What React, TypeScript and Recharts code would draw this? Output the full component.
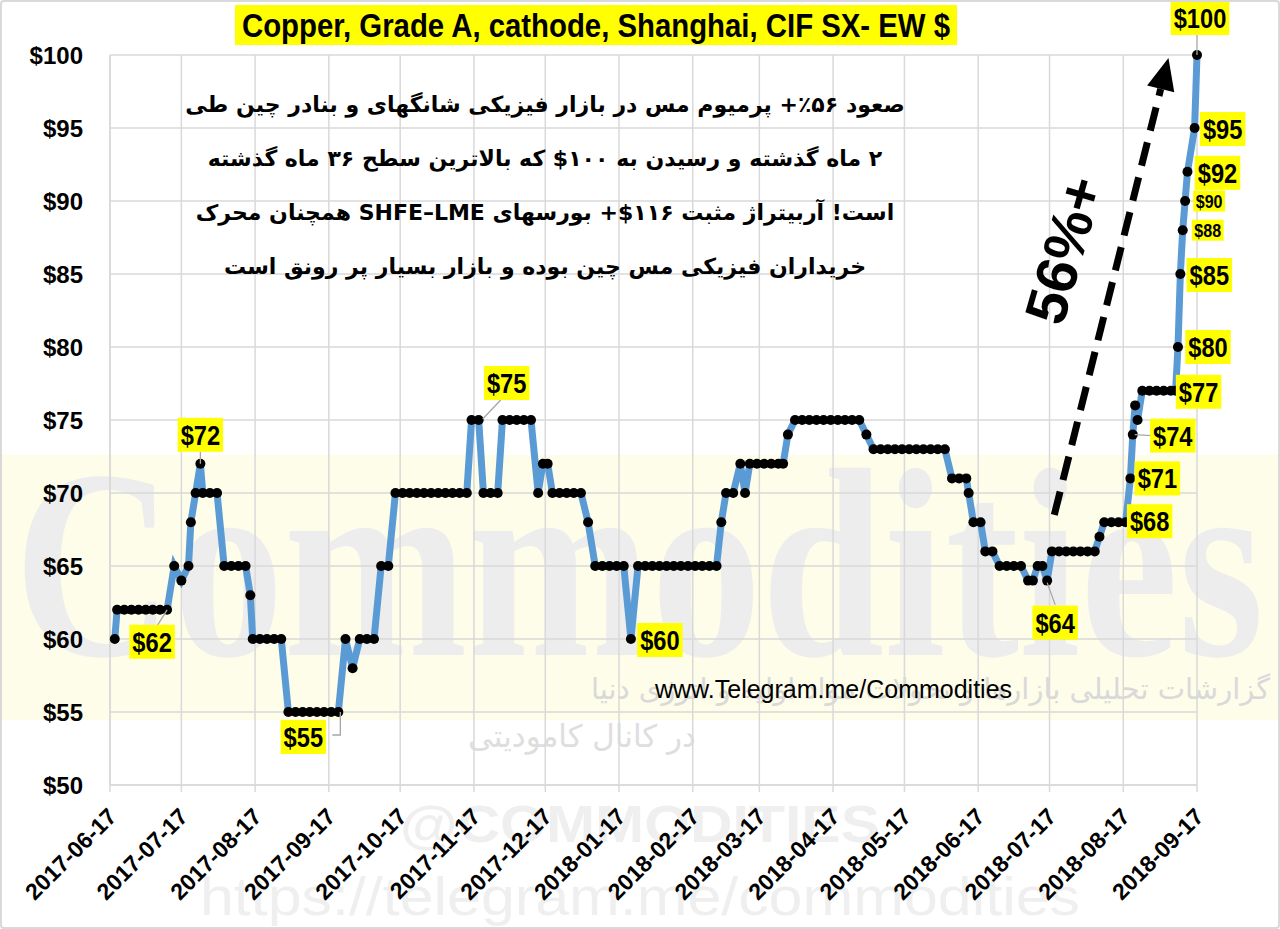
import React from 'react'
import { LineChart, Line, XAxis, YAxis, CartesianGrid, ReferenceLine, LabelList } from 'recharts'

const dates = [
  '2017-06-19', '2017-06-20', '2017-06-23', '2017-06-26', '2017-06-29',
  '2017-07-02', '2017-07-05', '2017-07-08', '2017-07-11', '2017-07-14', '2017-07-17', '2017-07-20', '2017-07-21', '2017-07-23', '2017-07-25', '2017-07-26', '2017-07-29',
  '2017-08-01', '2017-08-04', '2017-08-07', '2017-08-10', '2017-08-13', '2017-08-15', '2017-08-16', '2017-08-19', '2017-08-22', '2017-08-25', '2017-08-28', '2017-08-31',
  '2017-09-03', '2017-09-06', '2017-09-09', '2017-09-12', '2017-09-15', '2017-09-18', '2017-09-21', '2017-09-24', '2017-09-27', '2017-09-30',
  '2017-10-03', '2017-10-06', '2017-10-09', '2017-10-12', '2017-10-15', '2017-10-18', '2017-10-21', '2017-10-24', '2017-10-27', '2017-10-30',
  '2017-11-02', '2017-11-05', '2017-11-08', '2017-11-11', '2017-11-14', '2017-11-16', '2017-11-19', '2017-11-21', '2017-11-24', '2017-11-27', '2017-11-29',
  '2017-12-02', '2017-12-05', '2017-12-08', '2017-12-11', '2017-12-14', '2017-12-16', '2017-12-18', '2017-12-20', '2017-12-23', '2017-12-26', '2017-12-29',
  '2018-01-01', '2018-01-04', '2018-01-07', '2018-01-10', '2018-01-13', '2018-01-16', '2018-01-19', '2018-01-22', '2018-01-25', '2018-01-28', '2018-01-31',
  '2018-02-03', '2018-02-06', '2018-02-09', '2018-02-12', '2018-02-15', '2018-02-18', '2018-02-21', '2018-02-24', '2018-02-27',
  '2018-03-01', '2018-03-03', '2018-03-06', '2018-03-09', '2018-03-11', '2018-03-13', '2018-03-16', '2018-03-19', '2018-03-22', '2018-03-25', '2018-03-27', '2018-03-29',
  '2018-04-01', '2018-04-04', '2018-04-07', '2018-04-10', '2018-04-13', '2018-04-16', '2018-04-19', '2018-04-22', '2018-04-25', '2018-04-28',
  '2018-05-01', '2018-05-04', '2018-05-07', '2018-05-10', '2018-05-13', '2018-05-16', '2018-05-19', '2018-05-22', '2018-05-25', '2018-05-28', '2018-05-31',
  '2018-06-03', '2018-06-06', '2018-06-09', '2018-06-12', '2018-06-13', '2018-06-15', '2018-06-18', '2018-06-20', '2018-06-23', '2018-06-26', '2018-06-29',
  '2018-07-02', '2018-07-05', '2018-07-08', '2018-07-10', '2018-07-12', '2018-07-14', '2018-07-16', '2018-07-18', '2018-07-21', '2018-07-24', '2018-07-27', '2018-07-30',
  '2018-08-02', '2018-08-05', '2018-08-07', '2018-08-09', '2018-08-12', '2018-08-15', '2018-08-18', '2018-08-20', '2018-08-21', '2018-08-22', '2018-08-23', '2018-08-25', '2018-08-28', '2018-08-31',
  '2018-09-03', '2018-09-06', '2018-09-08', '2018-09-09', '2018-09-10', '2018-09-11', '2018-09-12', '2018-09-13', '2018-09-16', '2018-09-17',
]

const prices = [
  60, 62, 62, 62, 62,
  62, 62, 62, 62, 65, 64, 65, 68, 70, 72, 70, 70,
  70, 65, 65, 65, 65, 63, 60, 60, 60, 60, 60, 55,
  55, 55, 55, 55, 55, 55, 55, 60, 58, 60,
  60, 60, 65, 65, 70, 70, 70, 70, 70, 70,
  70, 70, 70, 70, 70, 75, 75, 70, 70, 70, 75,
  75, 75, 75, 75, 70, 72, 72, 70, 70, 70, 70,
  70, 68, 65, 65, 65, 65, 65, 60, 65, 65, 65,
  65, 65, 65, 65, 65, 65, 65, 65, 65,
  68, 70, 70, 72, 70, 72, 72, 72, 72, 72, 72, 74,
  75, 75, 75, 75, 75, 75, 75, 75, 75, 75,
  74, 73, 73, 73, 73, 73, 73, 73, 73, 73, 73,
  73, 71, 71, 71, 70, 68, 68, 66, 66, 65, 65,
  65, 65, 64, 64, 65, 65, 64, 66, 66, 66, 66, 66,
  66, 66, 67, 68, 68, 68, 68, 71, 74, 76, 75, 77, 77, 77,
  77, 77, 77, 80, 85, 88, 90, 92, 95, 100,
]

const monthTicks = [
  '2017-06-17', '2017-07-17', '2017-08-17', '2017-09-17', '2017-10-17', '2017-11-17', '2017-12-17', '2018-01-17',
  '2018-02-17', '2018-03-17', '2018-04-17', '2018-05-17', '2018-06-17', '2018-07-17', '2018-08-17', '2018-09-17',
]
const priceTicks = [50, 55, 60, 65, 70, 75, 80, 85, 90, 95, 100]

const title = 'Copper, Grade A, cathode, Shanghai, CIF SX- EW $'

const noteLines = [
  'صعود ۵۶٪+ پرمیوم مس در بازار فیزیکی شانگهای و بنادر چین طی',
  '۲ ماه گذشته و رسیدن به ۱۰۰$ که بالاترین سطح ۳۶ ماه گذشته',
  'است! آربیتراژ مثبت ۱۱۶$+ بورسهای SHFE–LME همچنان محرک',
  'خریداران فیزیکی مس چین بوده و بازار بسیار پر رونق است',
]

// which points get a yellow price tag, and where the tag sits relative to the dot
type Callout = { dx: number; dy: number; small?: boolean; leader?: number[][] }
const callouts: Record<string, Callout> = {
  '2017-07-11': { dx: -15, dy: 32, leader: [[0, 0], [-10, 16]] },
  '2017-07-25': { dx: 0, dy: -29, leader: [[0, 0], [0, -12]] },
  '2017-09-21': { dx: -35, dy: 25, leader: [[2, 0], [2, 23], [-6, 23]] },
  '2017-11-19': { dx: 28, dy: -37, leader: [[4, -1], [22, -20]] },
  '2018-01-22': { dx: 29, dy: 1 },
  '2018-07-16': { dx: 8, dy: 42, leader: [[0, 2], [8, 24]] },
  '2018-08-18': { dx: 24, dy: -1 },
  '2018-08-20': { dx: 27, dy: 0 },
  '2018-08-21': { dx: 40, dy: 1, leader: [[2, 0], [19, 1]] },
  '2018-09-08': { dx: 23, dy: 1 },
  '2018-09-09': { dx: 30, dy: 0 },
  '2018-09-10': { dx: 29, dy: 1 },
  '2018-09-11': { dx: 25, dy: 0, small: true },
  '2018-09-12': { dx: 24, dy: 0, small: true },
  '2018-09-13': { dx: 30, dy: 1 },
  '2018-09-16': { dx: 28, dy: 1 },
  '2018-09-17': { dx: 3, dy: -37, leader: [[0, 0], [0, -20]] },
}

const arrowFrom = { date: '2018-07-19', price: 68.5 }
const arrowTo = { date: '2018-09-05', price: 99.8 }

const SANS = "'Liberation Sans', Arial, sans-serif"
const PERSIAN = "'DejaVu Sans', sans-serif"
const GRID = '#d9d9d9'

const toTime = (d: string) => Date.parse(d + 'T00:00:00Z')

const chartData = dates.map((d, i) => ({ date: d, t: toTime(d), price: prices[i] }))

function PriceTag(props: any) {
  const { x, y, value } = props
  const c = callouts[value]
  if (!c || x == null || y == null) return null
  const text = `$${prices[dates.indexOf(value)]}`
  const fs = c.small ? 19 : 28
  const tw = text.length * fs * 0.47
  const w = tw + (c.small ? 5 : 6)
  const h = c.small ? 21 : 34
  const cx = x + c.dx
  const cy = y + c.dy
  return (
    <g>
      {c.leader && (
        <polyline
          points={c.leader.map(([px, py]) => `${x + px},${y + py}`).join(' ')}
          fill="none"
          stroke="#a6a6a6"
          strokeWidth={1.3}
        />
      )}
      <rect x={cx - w / 2} y={cy - h / 2} width={w} height={h} fill="#ffff00" />
      <text
        x={cx}
        y={cy}
        dy="0.36em"
        textAnchor="middle"
        fontSize={fs}
        fontWeight={700}
        fontFamily={SANS}
        fill="#000"
        textLength={tw}
        lengthAdjust="spacingAndGlyphs"
      >
        {text}
      </text>
    </g>
  )
}

function DateTick({ x, y, payload }: any) {
  const label = new Date(payload.value).toISOString().slice(0, 10)
  return (
    <g transform={`translate(${x},${y})`}>
      <text
        transform="translate(8, 24) rotate(-45)"
        textAnchor="end"
        fontSize={23}
        fontWeight={700}
        fontFamily={SANS}
        fill="#000"
      >
        {label}
      </text>
    </g>
  )
}

function DashedArrow(p: any) {
  const { x1, y1, x2, y2 } = p
  const ang = Math.atan2(y2 - y1, x2 - x1)
  const headLen = 32
  const headW = 14
  const bx = x2 - headLen * Math.cos(ang)
  const by = y2 - headLen * Math.sin(ang)
  const nx = -Math.sin(ang)
  const ny = Math.cos(ang)
  return (
    <g>
      <line x1={x1} y1={y1} x2={bx} y2={by} stroke="#000" strokeWidth={7} strokeDasharray="24 12" />
      <polygon
        points={`${x2},${y2} ${bx + nx * headW},${by + ny * headW} ${bx - nx * headW},${by - ny * headW}`}
        fill="#000"
      />
    </g>
  )
}

function Watermark() {
  return (
    <svg width={1280} height={929} style={{ position: 'absolute', left: 0, top: 0 }}>
      <rect x={0} y={455} width={1280} height={265} fill="#fdfdea" />
      <text
        x={14}
        y={655}
        fontSize={270}
        fontWeight={700}
        fontFamily="'Liberation Serif', serif"
        fill="#ededed"
        textLength={1250}
        lengthAdjust="spacingAndGlyphs"
      >
        Commodities
      </text>
      <text x={400} y={842} fontSize={52} fontWeight={700} fontFamily={SANS} fill="#efefef" textLength={480} lengthAdjust="spacingAndGlyphs">
        @COMMODITIES
      </text>
      <text x={200} y={915} fontSize={54} fontFamily={SANS} fill="#efefef" textLength={880} lengthAdjust="spacingAndGlyphs">
        https://telegram.me/commodities
      </text>
    </svg>
  )
}

export default function App() {
  return (
    <div style={{ position: 'absolute', left: 0, top: 0, width: 1280, height: 929, background: '#fff', overflow: 'hidden' }}>
      <Watermark />
      <div
        dir="rtl"
        style={{ position: 'absolute', right: 10, top: 672, fontFamily: PERSIAN, fontSize: 29, color: '#d9d9d9', whiteSpace: 'nowrap' }}
      >
        گزارشات تحلیلی بازارها و تحولات مواد اولیه و انرژی دنیا
      </div>
      <div
        dir="rtl"
        style={{ position: 'absolute', left: 468, top: 718, fontFamily: PERSIAN, fontSize: 31, color: '#dedede', whiteSpace: 'nowrap' }}
      >
        در کانال کامودیتی
      </div>

      <div style={{ position: 'absolute', left: 0, top: 0 }}>
        <LineChart width={1280} height={929} data={chartData} margin={{ top: 55, right: 83, bottom: 0, left: 0 }}>
          <CartesianGrid stroke={GRID} strokeWidth={1.5} />
          <XAxis
            dataKey="t"
            type="number"
            domain={[toTime(monthTicks[0]), toTime(monthTicks[monthTicks.length - 1])]}
            ticks={monthTicks.map(toTime)}
            tick={DateTick}
            tickLine={{ stroke: GRID, strokeWidth: 1.5 }}
            tickSize={7}
            axisLine={{ stroke: GRID, strokeWidth: 1.5 }}
            height={144}
            interval={0}
          />
          <YAxis
            domain={[50, 100]}
            ticks={priceTicks}
            tickFormatter={(v: number) => `$${v}`}
            tick={{ fontSize: 24, fontWeight: 700, fill: '#000', fontFamily: SANS }}
            tickLine={false}
            tickMargin={21}
            axisLine={{ stroke: GRID, strokeWidth: 1.5 }}
            width={110}
            interval={0}
          />
          <ReferenceLine
            segment={[
              { x: toTime(arrowFrom.date), y: arrowFrom.price },
              { x: toTime(arrowTo.date), y: arrowTo.price },
            ]}
            shape={DashedArrow}
          />
          <Line
            type="linear"
            dataKey="price"
            stroke="#5b9bd5"
            strokeWidth={7}
            dot={{ r: 5, fill: '#000', stroke: '#000', strokeWidth: 0 }}
            activeDot={false}
            isAnimationActive={false}
          >
            <LabelList dataKey="date" content={PriceTag} />
          </Line>
        </LineChart>
      </div>

      {/* title */}
      <svg width={1280} height={60} style={{ position: 'absolute', left: 0, top: 0 }}>
        <rect x={235} y={5} width={722} height={40} fill="#ffff00" />
        <text
          x={596}
          y={37}
          textAnchor="middle"
          fontFamily={SANS}
          fontWeight={700}
          fontSize={34}
          fill="#000"
          textLength={708}
          lengthAdjust="spacingAndGlyphs"
        >
          {title}
        </text>
      </svg>

      {/* note */}
      <div
        dir="rtl"
        style={{
          position: 'absolute', left: 175, top: 78, width: 740, textAlign: 'center',
          fontFamily: PERSIAN, fontWeight: 700, fontSize: 22, lineHeight: '54px', color: '#000',
        }}
      >
        {noteLines.map((l) => (
          <div key={l} style={{ whiteSpace: 'nowrap' }}>{l}</div>
        ))}
      </div>

      <div style={{ position: 'absolute', left: 655, top: 675, fontFamily: SANS, fontSize: 25, color: '#000', whiteSpace: 'nowrap' }}>
        www.Telegram.me/Commodities
      </div>

      <div
        style={{
          position: 'absolute', left: 1064, top: 250, transform: 'translate(-50%, -50%) rotate(-74deg)',
          fontFamily: SANS, fontWeight: 700, fontSize: 58, color: '#000', whiteSpace: 'nowrap', lineHeight: 1,
        }}
      >
        56%+
      </div>

      <div style={{ position: 'absolute', inset: 0, border: '2px solid #d9d9d9', borderRadius: 4, pointerEvents: 'none' }} />
    </div>
  )
}
